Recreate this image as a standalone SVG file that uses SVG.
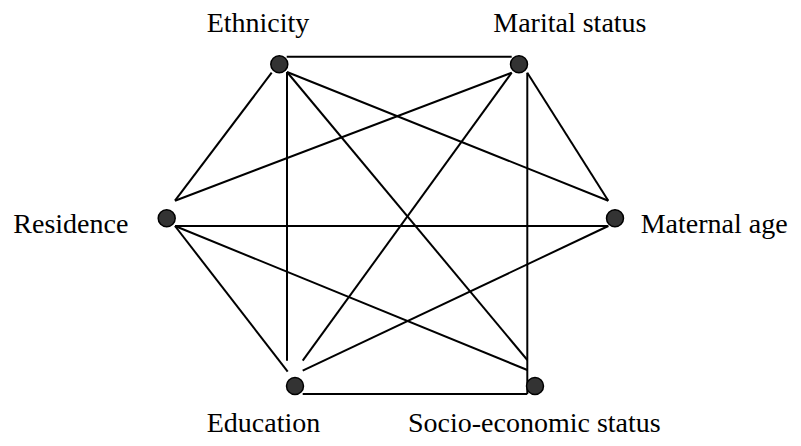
<svg xmlns="http://www.w3.org/2000/svg" width="801" height="446" viewBox="0 0 801 446">
<style>
.edge{stroke:#000;stroke-width:2;fill:none}
.dot{fill:#333;stroke:#000;stroke-width:1.5}
.lbl{font-family:"Liberation Serif","Times New Roman",serif;font-size:28px;fill:#000}
</style>
<rect width="801" height="446" fill="#fff"/>
<g id="connectors">
<line class="edge" x1="286.7" y1="56.7" x2="511.7" y2="56.7"/>
<line class="edge" x1="271.7" y1="72.7" x2="175" y2="200.7"/>
<line class="edge" x1="287" y1="72" x2="287" y2="360.7"/>
<line class="edge" x1="287" y1="72" x2="527.3" y2="360"/>
<line class="edge" x1="287" y1="72" x2="608.3" y2="200.7"/>
<line class="edge" x1="511.7" y1="72.7" x2="175" y2="200.7"/>
<line class="edge" x1="511.7" y1="72.7" x2="302.7" y2="360.7"/>
<line class="edge" x1="527.3" y1="72.7" x2="527.3" y2="394"/>
<line class="edge" x1="527.3" y1="72.7" x2="608.3" y2="200.7"/>
<line class="edge" x1="175" y1="226" x2="608.3" y2="226"/>
<line class="edge" x1="175" y1="226" x2="287.7" y2="371.7"/>
<line class="edge" x1="175" y1="226" x2="527.3" y2="370"/>
<line class="edge" x1="302.7" y1="394" x2="527.3" y2="394"/>
<line class="edge" x1="302.7" y1="370.7" x2="608.3" y2="226"/>
</g>
<g id="ethnicity"><circle class="dot" cx="279.3" cy="64.3" r="8.5"/><text class="lbl" x="206.7" y="31.7">Ethnicity</text></g>
<g id="marital-status"><circle class="dot" cx="519" cy="64.3" r="8.5"/><text class="lbl" x="493.3" y="31.7">Marital status</text></g>
<g id="residence"><circle class="dot" cx="166.7" cy="218.3" r="8.5"/><text class="lbl" x="13.3" y="232.5">Residence</text></g>
<g id="maternal-age"><circle class="dot" cx="615" cy="218.3" r="8.5"/><text class="lbl" x="640.7" y="232.5">Maternal age</text></g>
<g id="education"><circle class="dot" cx="295" cy="386" r="8.5"/><text class="lbl" x="206.7" y="431.7">Education</text></g>
<g id="socio-economic-status"><circle class="dot" cx="535" cy="386" r="8.5"/><text class="lbl" x="408" y="431.7">Socio-economic status</text></g>
</svg>
